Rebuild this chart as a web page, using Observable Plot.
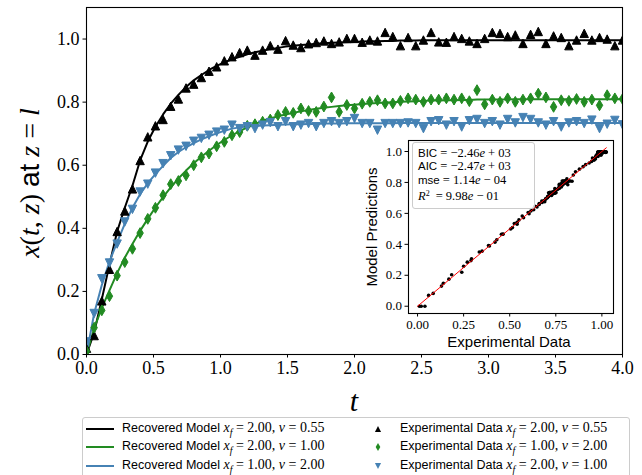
<!DOCTYPE html>
<html>
<head>
<meta charset="utf-8">
<script src="https://cdn.jsdelivr.net/npm/d3@7"></script>
<script src="https://cdn.jsdelivr.net/npm/@observablehq/plot@0.6"></script>
<style>
  body { margin: 0; background: #fff; }
  #wrap { position: relative; width: 642px; height: 475px; overflow: hidden; background: #fff; }
  .mi { font-family: "Liberation Serif", serif; font-style: italic; }
  .mr { font-family: "Liberation Serif", serif; font-style: normal; }
  .ss { font-family: "Liberation Sans", sans-serif; font-style: normal; }
  #legend { position: absolute; left: 82px; top: 417px; width: 548px; height: 80px; box-sizing: border-box;
            border: 1px solid #cccccc; border-radius: 3px; background: rgba(255,255,255,0.8); }
  .lrow { position: absolute; white-space: nowrap; font-size: 12.5px; line-height: 14px; height: 14px; }
  .lrow .math { font-size: 14px; }
  .lline { position: absolute; width: 28px; height: 2px; }
  .lmark { position: absolute; width: 12px; height: 12px; }
  #stats { position: absolute; left: 412px; top: 142px; width: 123px; height: 67px; box-sizing: border-box;
           border: 1px solid #cccccc; border-radius: 3px; background: rgba(255,255,255,0.8);
           padding: 4px 0 0 5px; white-space: nowrap; }
  #stats div { height: 13.4px; line-height: 13px; font-size: 11.5px; }
  #stats .math { font-size: 12.5px; }
  sub, sup { font-size: 70%; line-height: 0; }
</style>
</head>
<body>
<div id="wrap"></div>
<script>
// ---------------- data ----------------
const xTicks = [0, 0.5, 1.0, 1.5, 2.0, 2.5, 3.0, 3.5, 4.0];
const yTicks = [0, 0.2, 0.4, 0.6, 0.8, 1.0];
const insetXTicks = [0, 0.25, 0.5, 0.75, 1.0];
const insetYTicks = [0, 0.2, 0.4, 0.6, 0.8, 1.0];

// sample times (regular grid 0 .. 4)
const tStart = 0, tEnd = 4, nSamples = 71;
const tValues = d3.range(nSamples).map(i => tStart + i * (tEnd - tStart) / (nSamples - 1));

// recovered model curves
const modelBlack = [0, 0.07, 0.175, 0.285, 0.39, 0.465, 0.535, 0.615, 0.675, 0.722, 0.761, 0.795, 0.823, 0.848, 0.869, 0.886, 0.902, 0.915, 0.926, 0.936,
  0.944, 0.952, 0.958, 0.963, 0.968, 0.972, 0.976, 0.979, 0.981, 0.983, 0.985, 0.987, 0.988, 0.989, 0.990, 0.991, 0.992, 0.993, 0.993, 0.994,
  0.994, 0.995, 0.995, 0.995, 0.996, 0.996, 0.996, 0.996, 0.996, 0.996, 0.996, 0.996, 0.996, 0.996, 0.996, 0.996, 0.996, 0.996, 0.996, 0.996,
  0.996, 0.996, 0.996, 0.996, 0.996, 0.996, 0.996, 0.996, 0.996, 0.996, 0.996];
const modelGreen = [0, 0.083, 0.148, 0.203, 0.258, 0.307, 0.350, 0.392, 0.430, 0.466, 0.499, 0.530, 0.558, 0.583, 0.606, 0.627, 0.646, 0.664, 0.680, 0.695,
  0.708, 0.720, 0.731, 0.740, 0.748, 0.755, 0.761, 0.766, 0.771, 0.775, 0.779, 0.782, 0.785, 0.788, 0.790, 0.792, 0.794, 0.796, 0.797, 0.799,
  0.800, 0.801, 0.802, 0.803, 0.804, 0.805, 0.805, 0.806, 0.806, 0.807, 0.807, 0.808, 0.808, 0.808, 0.808, 0.808, 0.809, 0.809, 0.809, 0.809,
  0.809, 0.809, 0.809, 0.809, 0.809, 0.809, 0.809, 0.809, 0.809, 0.809, 0.809];
const modelBlue = [0, 0.13, 0.22, 0.295, 0.356, 0.414, 0.465, 0.508, 0.543, 0.572, 0.598, 0.623, 0.642, 0.657, 0.670, 0.682, 0.692, 0.701, 0.709, 0.716,
  0.720, 0.723, 0.724, 0.726, 0.727, 0.728, 0.729, 0.730, 0.730, 0.731, 0.731, 0.732, 0.732, 0.732, 0.733, 0.733, 0.733, 0.733, 0.733, 0.733,
  0.733, 0.734, 0.734, 0.734, 0.734, 0.734, 0.734, 0.734, 0.734, 0.734, 0.734, 0.734, 0.734, 0.734, 0.734, 0.734, 0.734, 0.734, 0.734, 0.734,
  0.734, 0.734, 0.734, 0.734, 0.734, 0.734, 0.734, 0.734, 0.734, 0.734, 0.734];

const expBlack = [0.02, 0.06, 0.17, 0.27, 0.39, 0.455, 0.525, 0.615, 0.69, 0.725, 0.745, 0.787, 0.81, 0.845, 0.857, 0.878, 0.898, 0.912, 0.931, 0.944,
  0.957, 0.965, 0.949, 0.965, 0.979, 0.968, 0.995, 0.981, 0.973, 0.985, 0.989, 0.994, 0.986, 0.991, 1.002, 1.002, 0.99, 0.997, 0.994, 1.021,
  1.008, 0.979, 1.005, 0.979, 0.997, 1.021, 0.991, 0.99, 1.008, 1.002, 0.994, 0.986, 1.002, 1.021, 1.018, 1.008, 1.013, 0.986, 1.015, 1.024,
  0.986, 1.01, 1.005, 0.979, 0.997, 1.018, 0.997, 1.005, 1.0, 0.979, 0.997];
const expGreen = [0.01, 0.085, 0.14, 0.185, 0.25, 0.293, 0.335, 0.385, 0.43, 0.465, 0.505, 0.54, 0.55, 0.568, 0.60, 0.625, 0.637, 0.66, 0.674, 0.695,
  0.705, 0.725, 0.73, 0.738, 0.745, 0.759, 0.769, 0.766, 0.78, 0.772, 0.769, 0.786, 0.815, 0.769, 0.791, 0.78, 0.795, 0.801, 0.806, 0.796,
  0.796, 0.804, 0.812, 0.808, 0.801, 0.808, 0.808, 0.812, 0.808, 0.812, 0.803, 0.838, 0.793, 0.808, 0.801, 0.812, 0.801, 0.808, 0.812, 0.827,
  0.815, 0.785, 0.806, 0.804, 0.81, 0.801, 0.808, 0.79, 0.822, 0.812, 0.81];
const expBlue = [0.04, 0.13, 0.24, 0.29, 0.35, 0.42, 0.46, 0.515, 0.54, 0.575, 0.605, 0.63, 0.648, 0.66, 0.676, 0.685, 0.695, 0.705, 0.711, 0.727,
  0.716, 0.722, 0.716, 0.727, 0.735, 0.722, 0.738, 0.722, 0.727, 0.732, 0.722, 0.732, 0.738, 0.732, 0.738, 0.748, 0.732, 0.732, 0.711, 0.732,
  0.732, 0.732, 0.734, 0.732, 0.716, 0.738, 0.741, 0.727, 0.738, 0.721, 0.741, 0.745, 0.732, 0.738, 0.727, 0.745, 0.734, 0.751, 0.745, 0.734,
  0.727, 0.738, 0.721, 0.734, 0.738, 0.732, 0.743, 0.716, 0.73, 0.742, 0.728];

const modelParams = [["2.00", "0.55"], ["2.00", "1.00"], ["1.00", "2.00"]];
const expParams = [["2.00", "0.55"], ["1.00", "2.00"], ["2.00", "1.00"]];
const statNames = ["BIC", "AIC", "mse", "R"];
const statMantissa = ["\u22122.46", "\u22122.47", "1.14", "9.98"];
const statExponent = ["+ 03", "+ 03", "\u2212 04", "\u2212 01"];

// ---------------- styles ----------------
const colors = ["#000000", "#228b22", "#4682b4"];
const models = [modelBlack, modelGreen, modelBlue];
const exps = [expBlack, expGreen, expBlue];

const triUp = {draw(ctx) { const s = 4.2; ctx.moveTo(0, -s); ctx.lineTo(s, s); ctx.lineTo(-s, s); ctx.closePath(); }};
const triDown = {draw(ctx) { const s = 4.2; ctx.moveTo(0, s); ctx.lineTo(s, -s); ctx.lineTo(-s, -s); ctx.closePath(); }};
const thinDiamond = {draw(ctx) { const h = 5.4, w = 3.2; ctx.moveTo(0, -h); ctx.lineTo(w, 0); ctx.lineTo(0, h); ctx.lineTo(-w, 0); ctx.closePath(); }};
const symbols = [triUp, thinDiamond, triDown];
const symbolPaths = [
  "M0,-4.2L4.2,4.2L-4.2,4.2Z",
  "M0,-5.4L3.2,0L0,5.4L-3.2,0Z",
  "M0,4.2L4.2,-4.2L-4.2,-4.2Z"
];

const SERIF = '"Liberation Serif", serif';
const SANS = '"Liberation Sans", sans-serif';

// ---------------- main plot ----------------
const wrap = document.getElementById("wrap");

const main = Plot.plot({
  width: 642,
  height: 475,
  marginLeft: 86,
  marginRight: 20,
  marginTop: 7,
  marginBottom: 121,
  style: {fontFamily: SERIF, fontSize: "18px", color: "#000", background: "transparent"},
  x: {domain: [0, 4]},
  y: {domain: [0, 1.1]},
  marks: [
    Plot.axisX({ticks: xTicks, tickFormat: d => d.toFixed(1), tickSize: 3.5, tickPadding: 3.5, label: null, fontSize: 18}),
    Plot.axisY({ticks: yTicks, tickFormat: d => d.toFixed(1), tickSize: 3.5, tickPadding: 3.5, label: null, fontSize: 18}),
    ...models.map((m, k) => Plot.line(tValues, {x: d => d, y: (d, i) => m[i], stroke: colors[k], strokeWidth: 2, clip: true})),
    ...exps.map((e, k) => Plot.dot(tValues, {x: d => d, y: (d, i) => e[i], symbol: symbols[k], fill: colors[k], stroke: colors[k], strokeWidth: 1, r: 4, clip: true})),
    Plot.frame({stroke: "#000", strokeWidth: 1.1})
  ]
});
main.style.position = "absolute";
main.style.left = "0px";
main.style.top = "0px";
wrap.appendChild(main);

// axis titles with mixed fonts
const ms = d3.select(main);
function addParts(textSel, parts) {
  parts.forEach(([txt, cls]) => {
    const ts = textSel.append("tspan").text(txt);
    if (cls === "mi") ts.attr("font-family", SERIF).attr("font-style", "italic");
    else if (cls === "mr") ts.attr("font-family", SERIF).attr("font-style", "normal");
    else ts.attr("font-family", SANS).attr("font-style", "normal");
  });
}
const yLab = ms.append("text")
  .attr("transform", "translate(29,183) rotate(-90)")
  .attr("text-anchor", "middle").attr("dominant-baseline", "central")
  .attr("font-size", 28).attr("fill", "#000");
addParts(yLab, [["x", "mi"], ["(", "mr"], ["t", "mi"], [", ", "mr"], ["z", "mi"], [") ", "mr"], ["at", "ss"], [" ", "mr"], ["z", "mi"], [" = ", "mr"], ["l", "mi"]]);

ms.append("text").attr("x", 354).attr("y", 411).attr("text-anchor", "middle")
  .attr("font-size", 30).attr("font-family", SERIF).attr("font-style", "italic").attr("fill", "#000").text("t");

// ---------------- inset ----------------
const insetPts = [];
exps.forEach((e, k) => e.forEach((v, i) => insetPts.push({x: v, y: models[k][i]})));
const maxVal = d3.max(insetPts, d => Math.max(d.x, d.y));
const diag = [{x: 0, y: 0}, {x: maxVal, y: maxVal}];

const inset = Plot.plot({
  width: 262,
  height: 218,
  marginLeft: 52,
  marginRight: 5,
  marginTop: 5,
  marginBottom: 40,
  style: {fontFamily: SERIF, fontSize: "13px", color: "#000", background: "transparent"},
  x: {domain: [-0.049, 1.063]},
  y: {domain: [-0.047, 1.071]},
  marks: [
    Plot.frame({fill: "white", stroke: "none"}),
    Plot.axisX({ticks: insetXTicks, tickFormat: d => d.toFixed(2), tickSize: 3.5, tickPadding: 3, label: null, fontSize: 13}),
    Plot.axisY({ticks: insetYTicks, tickFormat: d => d.toFixed(1), tickSize: 3.5, tickPadding: 3, label: null, fontSize: 13}),
    Plot.dot(insetPts, {x: "x", y: "y", r: 1.8, fill: "black", stroke: "none"}),
    Plot.line(diag, {x: "x", y: "y", stroke: "red", strokeWidth: 1}),
    Plot.frame({stroke: "#000", strokeWidth: 1.1})
  ]
});
inset.style.position = "absolute";
inset.style.left = "356px";
inset.style.top = "135px";
wrap.appendChild(inset);

const is = d3.select(inset);
is.append("text").attr("transform", "translate(15.5,92) rotate(-90)")
  .attr("text-anchor", "middle").attr("dominant-baseline", "central")
  .attr("font-family", SANS).attr("font-size", 15).attr("fill", "#000").text("Model Predictions");
is.append("text").attr("x", 153).attr("y", 212)
  .attr("text-anchor", "middle")
  .attr("font-family", SANS).attr("font-size", 15).attr("fill", "#000").text("Experimental Data");

// stats box
const stats = document.createElement("div");
stats.id = "stats";
statNames.forEach((nm, i) => {
  const row = document.createElement("div");
  const name = i === 3
    ? '<span class="mi math">R</span><span class="mr" style="font-size:8px;vertical-align:4px">2</span>&nbsp;'
    : '<span class="ss">' + nm + '</span>';
  row.innerHTML = name + '<span class="mr math"> = ' + statMantissa[i] + '<span class="mi">e</span> ' + statExponent[i] + '</span>';
  stats.appendChild(row);
});
wrap.appendChild(stats);

// ---------------- legend ----------------
const legend = document.createElement("div");
legend.id = "legend";
const rowTops = [10.5, 29.2, 48];
function mathLabel(p) {
  return '<span class="math"><span class="mi">x</span><sub class="mi">f</sub><span class="mr"> = ' + p[0] +
    ', </span><span class="mi">v</span><span class="mr"> = ' + p[1] + '</span></span>';
}
for (let k = 0; k < 3; k++) {
  const ln = document.createElement("div");
  ln.className = "lline";
  ln.style.left = "3px";
  ln.style.top = (rowTops[k] - 1) + "px";
  ln.style.background = colors[k];
  legend.appendChild(ln);
  const tx = document.createElement("div");
  tx.className = "lrow";
  tx.style.left = "39px";
  tx.style.top = (rowTops[k] - 8) + "px";
  tx.innerHTML = '<span class="ss">Recovered Model </span>' + mathLabel(modelParams[k]);
  legend.appendChild(tx);

  const mk = document.createElementNS("http://www.w3.org/2000/svg", "svg");
  mk.setAttribute("class", "lmark");
  mk.setAttribute("viewBox", "-7 -7 14 14");
  mk.style.left = (295 - 6) + "px";
  mk.style.top = (rowTops[k] - 6) + "px";
  const path = document.createElementNS("http://www.w3.org/2000/svg", "path");
  path.setAttribute("d", symbolPaths[k]);
  path.setAttribute("fill", colors[k]);
  path.setAttribute("transform", "scale(0.85)");
  mk.appendChild(path);
  legend.appendChild(mk);
  const tx2 = document.createElement("div");
  tx2.className = "lrow";
  tx2.style.left = "317px";
  tx2.style.top = (rowTops[k] - 8) + "px";
  tx2.innerHTML = '<span class="ss">Experimental Data </span>' + mathLabel(expParams[k]);
  legend.appendChild(tx2);
}
wrap.appendChild(legend);
</script>
</body>
</html>
